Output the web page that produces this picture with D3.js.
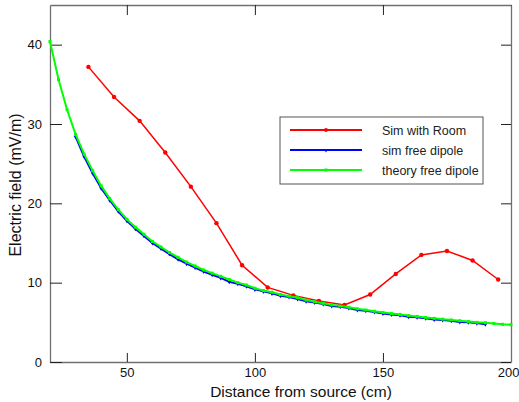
<!DOCTYPE html>
<html>
<head>
<meta charset="utf-8">
<script src="https://d3js.org/d3.v7.min.js"></script>
<style>
  body { margin: 0; background: #fff; }
  svg { display: block; font-family: "Liberation Sans", Arial, sans-serif; }
</style>
</head>
<body>
<div id="chart"></div>
<script>
// distance (cm) and field (mV/m)
var roomX = [35, 45, 55, 65, 75, 85, 95, 105, 115, 125, 135, 145, 155, 165, 175, 185, 195];
var roomY = [37.2, 33.4, 30.4, 26.4, 22.1, 17.5, 12.2, 9.4, 8.4, 7.7, 7.2, 8.5, 11.1, 13.5, 14.0, 12.8, 10.4];

var freeX = [30, 33.33, 36.67, 40, 43.33, 46.67, 50, 53.33, 56.67, 60, 63.33, 66.67, 70, 73.33, 76.67, 80,
  83.33, 86.67, 90, 93.33, 96.67, 100, 103.33, 106.67, 110, 113.33, 116.67, 120, 123.33, 126.67, 130,
  133.33, 136.67, 140, 143.33, 146.67, 150, 153.33, 156.67, 160, 163.33, 166.67, 170, 173.33, 176.67,
  180, 183.33, 186.67, 190];
var freeY = [28.4, 25.9, 23.8, 21.9, 20.4, 19.0, 17.8, 16.8, 15.9, 15.0, 14.3, 13.6, 12.95, 12.4, 11.9, 11.4,
  11.0, 10.6, 10.1, 9.85, 9.55, 9.15, 8.9, 8.65, 8.35, 8.2, 7.95, 7.65, 7.5, 7.3, 7.05,
  6.95, 6.8, 6.55, 6.45, 6.3, 6.1, 6.0, 5.9, 5.7, 5.65, 5.5, 5.35, 5.3, 5.2,
  5.05, 5.0, 4.9, 4.75];

var theoryX = [20, 23.33, 26.67, 30, 33.33, 36.67, 40, 43.33, 46.67, 50, 53.33, 56.67, 60, 63.33, 66.67, 70,
  73.33, 76.67, 80, 83.33, 86.67, 90, 93.33, 96.67, 100, 103.33, 106.67, 110, 113.33, 116.67, 120,
  123.33, 126.67, 130, 133.33, 136.67, 140, 143.33, 146.67, 150, 153.33, 156.67, 160, 163.33, 166.67,
  170, 173.33, 176.67, 180, 183.33, 186.67, 190, 193.33, 196.67, 200];
var theoryY = [40.4, 35.6, 31.8, 28.7, 26.2, 24.1, 22.2, 20.6, 19.2, 18.0, 17.0, 16.1, 15.2, 14.5, 13.8, 13.2,
  12.6, 12.1, 11.6, 11.2, 10.8, 10.4, 10.0, 9.7, 9.3, 9.0, 8.8, 8.5, 8.3, 8.1, 7.8,
  7.6, 7.4, 7.2, 7.05, 6.9, 6.7, 6.55, 6.4, 6.25, 6.1, 6.0, 5.85, 5.75, 5.6,
  5.5, 5.4, 5.3, 5.2, 5.1, 5.0, 4.95, 4.85, 4.75, 4.7];

var xTicks = [50, 100, 150, 200];
var yTicks = [0, 10, 20, 30, 40];
var seriesNames = ["Sim with Room", "sim free dipole", "theory free dipole"];
var seriesColors = ["#ff0000", "#0000ff", "#00ff00"];

var margin = {top: 5, right: 8, bottom: 40, left: 50},
    width = 519 - margin.left - margin.right,
    height = 402 - margin.top - margin.bottom;

var svg = d3.select("#chart")
  .append("svg")
    .attr("width", 519)
    .attr("height", 402)
  .append("g")
    .attr("transform", "translate(" + margin.left + "," + margin.top + ")");

var x = d3.scaleLinear().domain([20, 200]).range([0, width]);
var y = d3.scaleLinear().domain([0, 45]).range([height, 0]);

// box with inward ticks on all four sides
function styleAxis(g) {
  g.select(".domain").attr("stroke", "#707070").attr("stroke-width", 1.3);
  g.selectAll(".tick line").attr("stroke", "#222");
  g.selectAll(".tick text").attr("fill", "#111").style("font-size", "13px");
}

var xAxisG = svg.append("g")
  .attr("transform", "translate(0," + height + ")")
  .call(d3.axisBottom(x).tickValues(xTicks).tickSizeInner(-9).tickSizeOuter(0).tickPadding(6))
  .call(styleAxis);
// last label sits against the right edge, like the original
xAxisG.selectAll(".tick text")
  .filter(function(d) { return d == 200; })
  .attr("text-anchor", "end")
  .attr("x", 8);

svg.append("g")
  .call(d3.axisTop(x).tickValues(xTicks).tickSizeInner(-10).tickSizeOuter(0).tickFormat(""))
  .call(styleAxis);
svg.append("g")
  .call(d3.axisLeft(y).tickValues(yTicks).tickSizeInner(-12).tickSizeOuter(0).tickPadding(8))
  .call(styleAxis);
svg.append("g")
  .attr("transform", "translate(" + width + ",0)")
  .call(d3.axisRight(y).tickValues(yTicks).tickSizeInner(-10).tickSizeOuter(0).tickFormat(""))
  .call(styleAxis);

var line = d3.line()
  .x(function(d) { return x(d[0]); })
  .y(function(d) { return y(d[1]); });

var series = [
  {xs: roomX, ys: roomY, w: 1.5, marker: "circle"},
  {xs: freeX, ys: freeY, w: 2, marker: "tri"},
  {xs: theoryX, ys: theoryY, w: 2, marker: "square"}
];

var plot = svg.append("g");
series.forEach(function(s, i) {
  var pts = s.xs.map(function(v, j) { return [v, s.ys[j]]; });
  plot.append("path")
    .datum(pts)
    .attr("d", line)
    .attr("fill", "none")
    .attr("stroke", seriesColors[i])
    .attr("stroke-width", s.w);
  drawMarkers(plot, pts, s.marker, seriesColors[i]);
});

function drawMarkers(g, pts, kind, color) {
  var sel = g.selectAll(null).data(pts).enter();
  if (kind == "circle") {
    sel.append("circle")
      .attr("cx", function(d) { return x(d[0]); })
      .attr("cy", function(d) { return y(d[1]); })
      .attr("r", 2.2)
      .attr("fill", color);
  } else if (kind == "tri") {
    sel.append("path")
      .attr("transform", function(d) { return "translate(" + x(d[0]) + "," + y(d[1]) + ")"; })
      .attr("d", "M-2,-1L2,-1L0,2.5Z")
      .attr("fill", color);
  } else {
    sel.append("rect")
      .attr("x", function(d) { return x(d[0]) - 1.5; })
      .attr("y", function(d) { return y(d[1]) - 1.5; })
      .attr("width", 3)
      .attr("height", 3)
      .attr("fill", color);
  }
}

// legend
var legend = svg.append("g")
  .attr("transform", "translate(" + (280 - margin.left) + "," + (117 - margin.top) + ")");
legend.append("rect")
  .attr("width", 203)
  .attr("height", 67)
  .attr("fill", "#fff")
  .attr("stroke", "#555")
  .attr("stroke-width", 1);

var kinds = ["circle", "tri", "square"];
seriesNames.forEach(function(name, i) {
  var ly = 13 + i * 20;
  legend.append("line")
    .attr("x1", 10).attr("x2", 82)
    .attr("y1", ly).attr("y2", ly)
    .attr("stroke", seriesColors[i])
    .attr("stroke-width", 2);
  var m = legend.append("g").attr("transform", "translate(46," + ly + ")");
  if (kinds[i] == "circle") m.append("circle").attr("r", 2).attr("fill", seriesColors[i]);
  else if (kinds[i] == "tri") m.append("path").attr("d", "M-2,-1L2,-1L0,2.5Z").attr("fill", seriesColors[i]);
  else m.append("rect").attr("x", -1.5).attr("y", -1.5).attr("width", 3).attr("height", 3).attr("fill", seriesColors[i]);
  legend.append("text")
    .attr("x", 102)
    .attr("y", ly + 4.5)
    .style("font-size", "12.5px")
    .attr("fill", "#222")
    .text(name);
});

// axis titles
svg.append("text")
  .attr("x", 301 - margin.left)
  .attr("y", 397 - margin.top)
  .attr("text-anchor", "middle")
  .style("font-size", "15.5px")
  .attr("fill", "#111")
  .text("Distance from source (cm)");

svg.append("text")
  .attr("transform", "translate(" + (21 - margin.left) + "," + (185 - margin.top) + ") rotate(-90)")
  .attr("text-anchor", "middle")
  .style("font-size", "16px")
  .attr("fill", "#111")
  .text("Electric field (mV/m)");
</script>
</body>
</html>
